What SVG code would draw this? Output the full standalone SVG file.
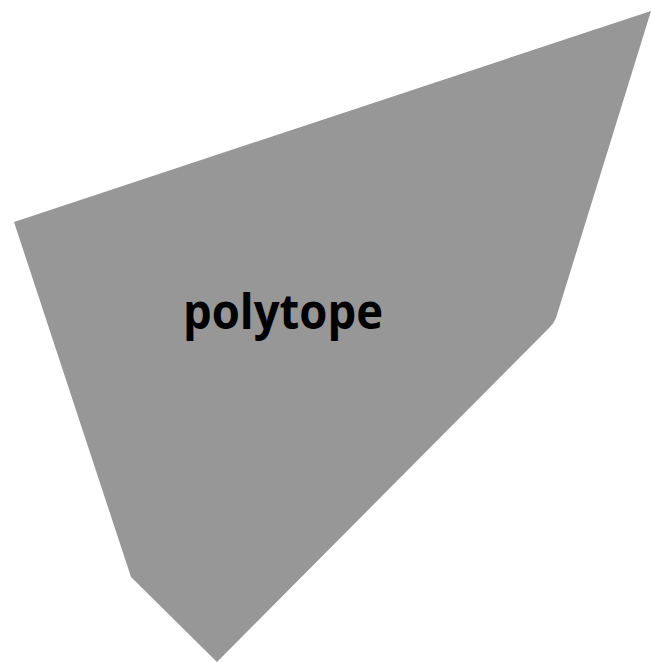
<svg xmlns="http://www.w3.org/2000/svg" width="652" height="662" viewBox="0 0 652 662">
<style>
.shape{fill:#979797;stroke:none}
.lbl{font-family:"Open Sans","Liberation Sans",sans-serif;font-weight:bold;font-size:48px;fill:#000}
</style>
<rect width="652" height="662" fill="#fff"/>
<g id="polytope">
<path class="shape" d="M14,222 L651,11 L556,318 Q554,323 550,327 L217,662 L131,577 Z"/>
<text class="lbl" x="183" y="329" textLength="200" lengthAdjust="spacingAndGlyphs">polytope</text>
</g>
</svg>
